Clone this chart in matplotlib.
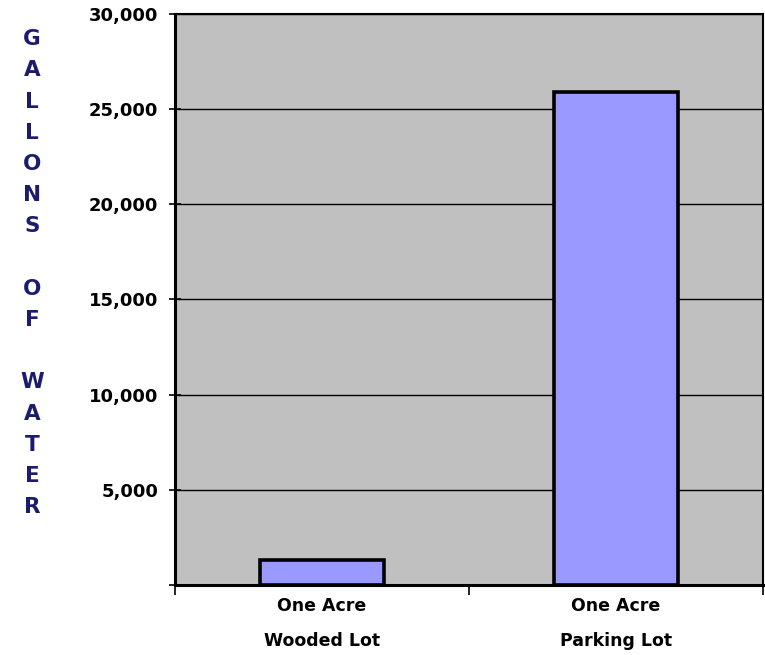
import matplotlib.pyplot as plt
import numpy as np

categories = ['One Acre\nWooded Lot', 'One Acre\nParking Lot']
gallons = [1300, 25900]
yticks = [5000, 10000, 15000, 20000, 25000, 30000]
ytick_labels = ['5,000', '10,000', '15,000', '20,000', '25,000', '30,000']
ylabel_words = ['GALLONS', 'OF', 'WATER']

fig = plt.figure(figsize=(7.65, 6.55), dpi=100)
ax = fig.add_axes([0.2288, 0.1069, 0.7686, 0.8718])
ax.set_facecolor('#c0c0c0')

x = np.arange(len(categories))
ax.bar(x, gallons, width=0.42, color='#9999ff', edgecolor='black', linewidth=2.6, zorder=3)

ax.set_xlim(-0.5, len(categories) - 0.5)
ax.set_ylim(0, 30000)

ax.set_yticks([0] + yticks)
ax.set_yticklabels([''] + ytick_labels, fontsize=13, fontweight='bold')
ax.yaxis.grid(True, color='black', linewidth=1.0)
ax.set_axisbelow(True)
ax.tick_params(axis='y', direction='inout', length=8, width=1.2, pad=8)

ax.set_xticks(x)
ax.set_xticklabels(categories, fontsize=12.5, fontweight='bold', linespacing=2.2)
ax.tick_params(axis='x', length=0, pad=9)
ax.set_xticks(np.arange(-0.5, len(categories)), minor=True)
ax.tick_params(axis='x', which='minor', direction='out', length=7, width=1.2)

for s in ax.spines.values():
    s.set_linewidth(1.5)
ax.spines['bottom'].set_linewidth(2.2)
ax.spines['left'].set_linewidth(2.2)

# stacked vertical label letters
lines = []
for word in ylabel_words:
    lines += list(word) + [' ']
fig.text(0.042, 0.583, '\n'.join(lines[:-1]), ha='center', va='center',
         fontsize=15.5, fontweight='bold', color='#1c1c6e', linespacing=1.70)

fig.savefig('out.png', dpi=100)
